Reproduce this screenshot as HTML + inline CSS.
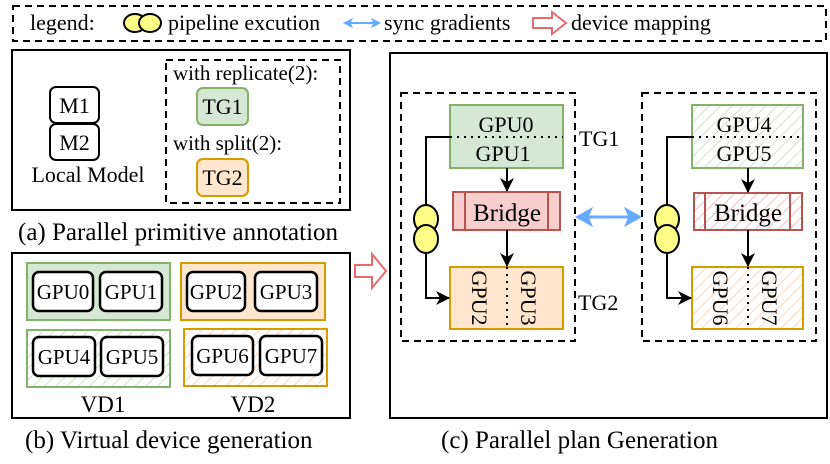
<!DOCTYPE html>
<html><head><meta charset="utf-8"><style>
body{margin:0;background:#fff}
svg{display:block}
svg text{font-family:"Liberation Serif","DejaVu Serif","Times New Roman",Times,serif;fill:#000}
</style></head><body>
<svg width="830" height="464" viewBox="0 0 830 464" xmlns="http://www.w3.org/2000/svg" font-family="Liberation Serif, DejaVu Serif, serif">
<defs>
<pattern id="hg" width="8" height="8" patternUnits="userSpaceOnUse" patternTransform="rotate(45)"><line x1="0" y1="0" x2="0" y2="8" stroke="#b9dcb0" stroke-width="1.5"/></pattern>
<pattern id="ho" width="8" height="8" patternUnits="userSpaceOnUse" patternTransform="rotate(45)"><line x1="0" y1="0" x2="0" y2="8" stroke="#f8c9a6" stroke-width="1.5"/></pattern>
<pattern id="hr" width="8" height="8" patternUnits="userSpaceOnUse" patternTransform="rotate(45)"><line x1="0" y1="0" x2="0" y2="8" stroke="#f2a9a9" stroke-width="1.5"/></pattern>
<marker id="ah" markerWidth="14" markerHeight="14" refX="13" refY="7" orient="auto" markerUnits="userSpaceOnUse"><path d="M0,0 L14,7 L0,14 L4,7 Z" fill="#000"/></marker>
</defs>
<!-- legend -->
<rect x="13" y="6" width="813" height="35" fill="none" stroke="#000" stroke-width="2" stroke-dasharray="7,5"/>
<text x="30" y="30" font-size="22">legend:</text>
<ellipse cx="135" cy="23" rx="11" ry="9" fill="#ffff88" stroke="#000" stroke-width="2"/>
<ellipse cx="150" cy="23" rx="11" ry="9" fill="#ffff88" stroke="#000" stroke-width="2"/>
<text x="168" y="30" font-size="22">pipeline excution</text>
<line x1="346" y1="23" x2="378" y2="23" stroke="#66aaff" stroke-width="2"/>
<path d="M344,23 L352,19 L350,23 L352,27Z M380,23 L372,19 L374,23 L372,27Z" fill="#66aaff" stroke="#66aaff"/>
<text x="384" y="30" font-size="22">sync gradients</text>
<path d="M533,18 L552,18 L552,12 L566,23 L552,34 L552,28 L533,28Z" fill="#fff" stroke="#e86a6a" stroke-width="2"/>
<text x="571" y="30" font-size="22">device mapping</text>

<!-- panel a -->
<rect x="12" y="50" width="338" height="160" fill="none" stroke="#000" stroke-width="2"/>
<rect x="50" y="87" width="49" height="36" rx="6" fill="#fff" stroke="#000" stroke-width="2"/>
<rect x="50" y="124" width="49" height="36" rx="6" fill="#fff" stroke="#000" stroke-width="2"/>
<text x="74.5" y="113" font-size="22" text-anchor="middle">M1</text>
<text x="74.5" y="150" font-size="22" text-anchor="middle">M2</text>
<text x="88" y="182" font-size="22" text-anchor="middle">Local Model</text>
<rect x="166" y="60" width="174" height="143" fill="none" stroke="#000" stroke-width="2" stroke-dasharray="7,5"/>
<text x="173" y="80" font-size="21">with replicate(2):</text>
<rect x="197" y="88" width="51" height="37" rx="6" fill="#d5e8d4" stroke="#82b366" stroke-width="2"/>
<text x="222.5" y="114" font-size="22" text-anchor="middle">TG1</text>
<text x="173" y="150" font-size="21">with split(2):</text>
<rect x="197" y="159" width="51" height="37" rx="6" fill="#ffe6cc" stroke="#d79b00" stroke-width="2"/>
<text x="222.5" y="185" font-size="22" text-anchor="middle">TG2</text>
<text x="18" y="240" font-size="25">(a) Parallel primitive annotation</text>

<!-- panel b -->
<rect x="12" y="253" width="338" height="165" fill="none" stroke="#000" stroke-width="2"/>
<rect x="27" y="263" width="143" height="57" fill="#d5e8d4" stroke="#82b366" stroke-width="2"/>
<rect x="181" y="263" width="144" height="57" fill="#ffe6cc" stroke="#d79b00" stroke-width="2"/>
<rect x="27" y="330" width="143" height="57" fill="url(#hg)" stroke="#82b366" stroke-width="2"/>
<rect x="184" y="329" width="143" height="57" fill="url(#ho)" stroke="#d79b00" stroke-width="2"/>
<g stroke="#000" stroke-width="2.5" fill="#fff">
<rect x="33" y="272" width="60" height="39" rx="6"/><rect x="100" y="272" width="62" height="39" rx="6"/>
<rect x="187" y="272" width="58" height="39" rx="6"/><rect x="255" y="272" width="62" height="39" rx="6"/>
<rect x="33" y="337" width="62" height="39" rx="6"/><rect x="101" y="337" width="62" height="39" rx="6"/>
<rect x="192" y="336" width="61" height="39" rx="6"/><rect x="260" y="336" width="62" height="39" rx="6"/>
</g>
<g font-size="21" text-anchor="middle">
<text x="63" y="299">GPU0</text><text x="131" y="299">GPU1</text>
<text x="216" y="299">GPU2</text><text x="286" y="299">GPU3</text>
<text x="64" y="364">GPU4</text><text x="132" y="364">GPU5</text>
<text x="222.5" y="363">GPU6</text><text x="291" y="363">GPU7</text>
<text x="103" y="412" font-size="23">VD1</text><text x="253" y="412" font-size="23">VD2</text>
</g>
<text x="25" y="448" font-size="25">(b) Virtual device generation</text>
<path d="M355,265 L372,265 L372,254 L386,271 L372,288 L372,277 L355,277Z" fill="#fff" stroke="#e86a6a" stroke-width="2"/>

<!-- panel c -->
<rect x="390" y="53" width="437" height="365" fill="none" stroke="#000" stroke-width="2"/>
<text x="441" y="448" font-size="25">(c) Parallel plan Generation</text>
<rect x="401" y="93" width="174" height="248" fill="none" stroke="#000" stroke-width="2" stroke-dasharray="7,5"/>
<rect x="642" y="93" width="174" height="248" fill="none" stroke="#000" stroke-width="2" stroke-dasharray="7,5"/>
<line x1="580" y1="217" x2="637" y2="217" stroke="#66aaff" stroke-width="3"/>
<path d="M576,217 L592,208 L588,217 L592,226Z M641,217 L625,208 L629,217 L625,226Z" fill="#66aaff" stroke="#66aaff"/>
<text x="579" y="146" font-size="22">TG1</text>
<text x="578" y="310" font-size="22">TG2</text>

<!-- left group -->
<rect x="450" y="105" width="113" height="63" fill="#d5e8d4" stroke="#82b366" stroke-width="2"/>
<rect x="453" y="192" width="107" height="38" fill="#f8cecc" stroke="#b85450" stroke-width="2"/>
<line x1="465" y1="192" x2="465" y2="230" stroke="#b85450" stroke-width="2"/>
<line x1="548" y1="192" x2="548" y2="230" stroke="#b85450" stroke-width="2"/>
<rect x="450" y="267" width="113" height="62" fill="#ffe6cc" stroke="#d79b00" stroke-width="2"/>
<line x1="450" y1="137" x2="563" y2="137" stroke="#000" stroke-width="2" stroke-dasharray="2,5"/>
<line x1="507" y1="267" x2="507" y2="329" stroke="#000" stroke-width="2" stroke-dasharray="2,5"/>
<text x="506" y="132" font-size="22" text-anchor="middle">GPU0</text>
<text x="503" y="161" font-size="22" text-anchor="middle">GPU1</text>
<text x="507" y="221" font-size="25" text-anchor="middle">Bridge</text>
<text transform="translate(472,298) rotate(90)" font-size="22" text-anchor="middle">GPU2</text>
<text transform="translate(521,298) rotate(90)" font-size="22" text-anchor="middle">GPU3</text>
<line x1="507" y1="168" x2="507" y2="191" stroke="#000" stroke-width="2" marker-end="url(#ah)"/>
<line x1="507" y1="230" x2="507" y2="266" stroke="#000" stroke-width="2" marker-end="url(#ah)"/>
<path d="M450,137 L426,137 L426,298 L449,298" fill="none" stroke="#000" stroke-width="2" marker-end="url(#ah)"/>
<ellipse cx="426" cy="219" rx="12" ry="14" fill="#ffff88" stroke="#000" stroke-width="2"/>
<ellipse cx="426" cy="239" rx="12" ry="14" fill="#ffff88" stroke="#000" stroke-width="2"/>

<!-- right group -->
<rect x="692" y="105" width="111" height="63" fill="url(#hg)" stroke="#82b366" stroke-width="2"/>
<rect x="694" y="193" width="108" height="37" fill="url(#hr)" stroke="#b85450" stroke-width="2"/>
<line x1="705" y1="193" x2="705" y2="230" stroke="#b85450" stroke-width="2"/>
<line x1="790" y1="193" x2="790" y2="230" stroke="#b85450" stroke-width="2"/>
<rect x="692" y="267" width="111" height="62" fill="url(#ho)" stroke="#d79b00" stroke-width="2"/>
<line x1="692" y1="137" x2="803" y2="137" stroke="#000" stroke-width="2" stroke-dasharray="2,5"/>
<line x1="748" y1="267" x2="748" y2="329" stroke="#000" stroke-width="2" stroke-dasharray="2,5"/>
<text x="744" y="132" font-size="22" text-anchor="middle">GPU4</text>
<text x="744" y="161" font-size="22" text-anchor="middle">GPU5</text>
<text x="748" y="221" font-size="25" text-anchor="middle">Bridge</text>
<text transform="translate(713,298) rotate(90)" font-size="22" text-anchor="middle">GPU6</text>
<text transform="translate(762,298) rotate(90)" font-size="22" text-anchor="middle">GPU7</text>
<line x1="748" y1="168" x2="748" y2="192" stroke="#000" stroke-width="2" marker-end="url(#ah)"/>
<line x1="748" y1="230" x2="748" y2="266" stroke="#000" stroke-width="2" marker-end="url(#ah)"/>
<path d="M692,137 L667,137 L667,298 L691,298" fill="none" stroke="#000" stroke-width="2" marker-end="url(#ah)"/>
<ellipse cx="667" cy="219" rx="12" ry="14" fill="#ffff88" stroke="#000" stroke-width="2"/>
<ellipse cx="667" cy="239" rx="12" ry="14" fill="#ffff88" stroke="#000" stroke-width="2"/>
</svg>
</body></html>
